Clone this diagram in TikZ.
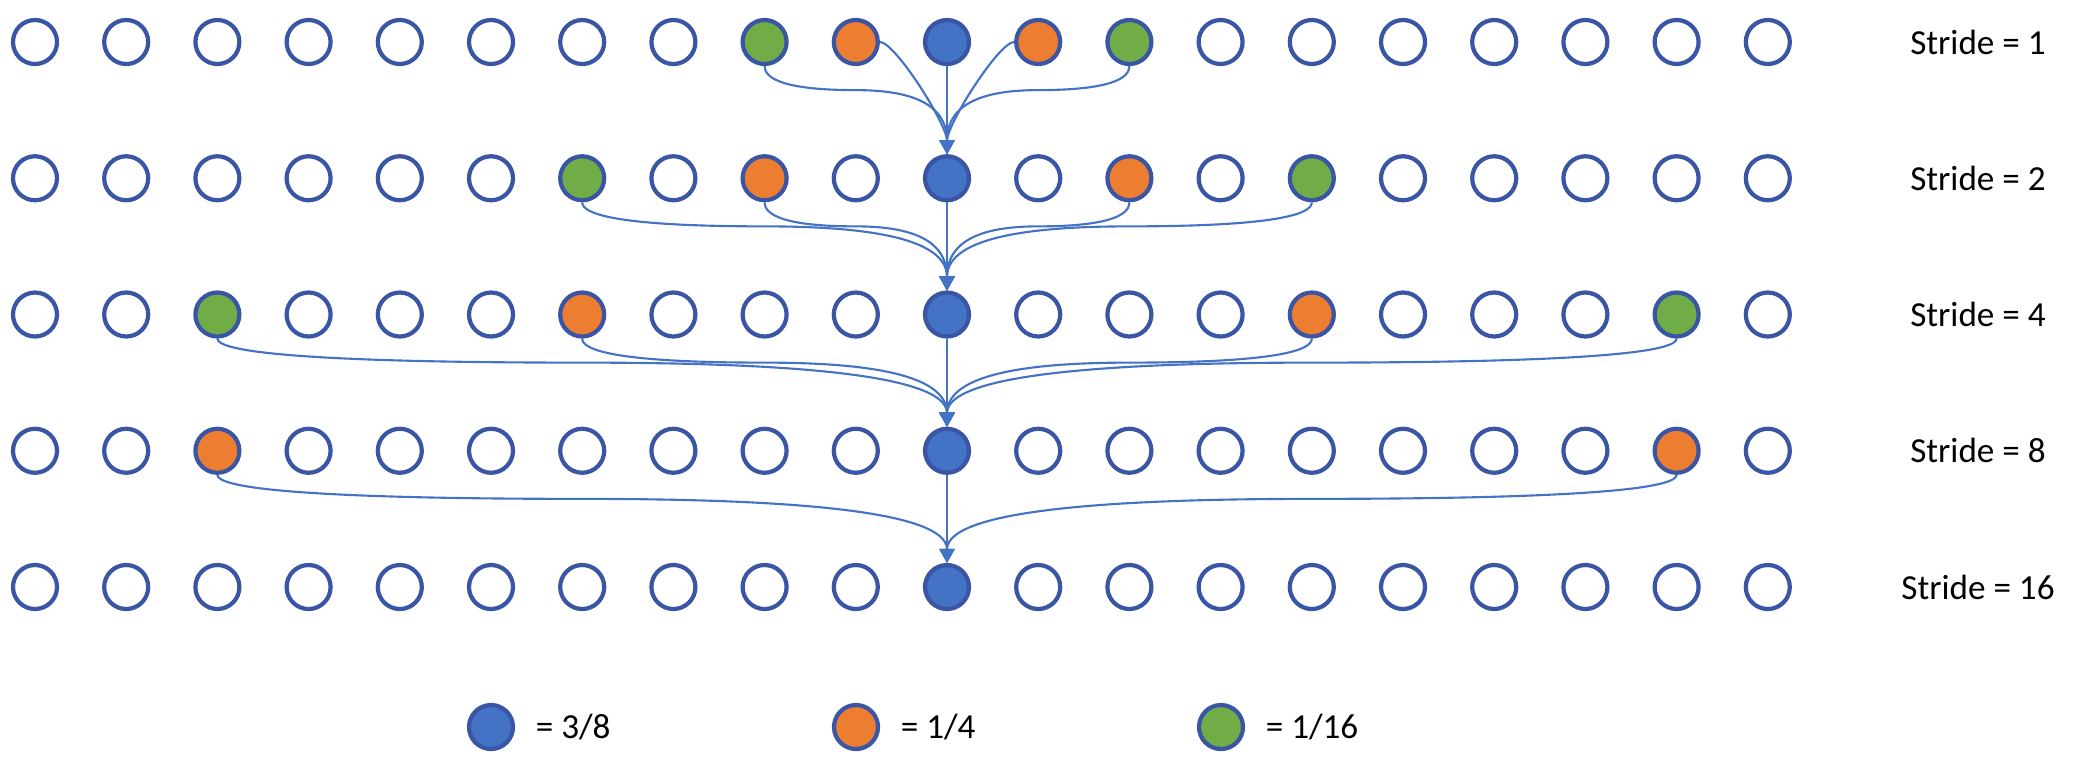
\documentclass[tikz,border=0pt]{standalone}
\usepackage{fontspec}
\setmainfont{Carlito}
\usetikzlibrary{arrows.meta,positioning,calc}
\definecolor{rim blue}{HTML}{3B55A5}
\definecolor{tap blue}{HTML}{4472C4}
\definecolor{tap orange}{HTML}{ED7D31}
\definecolor{tap green}{HTML}{70AD47}

\tikzset{
  tap/.style={circle, draw=rim blue, line width=1.2pt, fill=white,
    minimum size=0.44cm, inner sep=0pt},
  w38/.style={fill=tap blue},
  w14/.style={fill=tap orange},
  w116/.style={fill=tap green},
  link/.style={draw=tap blue, line width=0.6pt,
    -{Triangle[width=0.15cm,length=0.14cm]}},
  % taps that carry a weight, row by row
  s1-8/.style=w116, s1-9/.style=w14, s1-10/.style=w38, s1-11/.style=w14, s1-12/.style=w116,
  s2-6/.style=w116, s2-8/.style=w14, s2-10/.style=w38, s2-12/.style=w14, s2-14/.style=w116,
  s4-2/.style=w116, s4-6/.style=w14, s4-10/.style=w38, s4-14/.style=w14, s4-18/.style=w116,
  s8-2/.style=w14, s8-10/.style=w38, s8-18/.style=w14,
  s16-10/.style=w38,
}

% curved feed from a tap down into the centre tap of the next row
\newcommand{\feed}[2]{%
  \draw[link] let \p1=(#1.south), \p2=(#2.north), \n1={(\x2-\x1)/2} in
    (\p1) .. controls +(0,-0.12) and +({-0.8*\n1*1pt},0) .. (\x1+\n1*1pt,\y1-0.24cm)
    .. controls +({0.5*\n1*1pt},0) and +(0,0.55) .. (\p2);
}

\begin{document}
\begin{tikzpicture}
  \useasboundingbox (0,0) rectangle (20.84,-7.76);

  % rows of taps
  \foreach \s [count=\r from 0] in {1,2,4,8,16} {
    \foreach \i in {0,...,19}
      \node[tap, s\s-\i/.try] (s\s-\i) at ({0.35+0.912*\i},{-0.42-1.3625*\r}) {};
    \node (stride\s) at (19.78,{-0.42-1.3625*\r}) {Stride = \s};
  }

  % stride 1 -> 2
  \feed{s1-8}{s2-10}
  \feed{s1-12}{s2-10}
  \draw[link] (s1-9.east) .. controls +(0.15,0) and +(0,0.3) .. (s2-10.north);
  \draw[link] (s1-11.west) .. controls +(-0.15,0) and +(0,0.3) .. (s2-10.north);
  \draw[link] (s1-10) -- (s2-10);

  % stride 2 -> 4
  \foreach \i in {6,8,12,14}
    \feed{s2-\i}{s4-10}
  \draw[link] (s2-10) -- (s4-10);

  % stride 4 -> 8
  \foreach \i in {2,6,14,18}
    \feed{s4-\i}{s8-10}
  \draw[link] (s4-10) -- (s8-10);

  % stride 8 -> 16
  \feed{s8-2}{s16-10}
  \feed{s8-18}{s16-10}
  \draw[link] (s8-10) -- (s16-10);

  % legend
  \node[tap, w38] (key38) at (4.91,-7.27) {};
  \node[right=0.2cm of key38, inner sep=0pt] (key38text) {= 3/8};
  \node[tap, w14] (key14) at (8.56,-7.27) {};
  \node[right=0.2cm of key14, inner sep=0pt] (key14text) {= 1/4};
  \node[tap, w116] (key116) at (12.21,-7.27) {};
  \node[right=0.2cm of key116, inner sep=0pt] (key116text) {= 1/16};
\end{tikzpicture}
\end{document}
